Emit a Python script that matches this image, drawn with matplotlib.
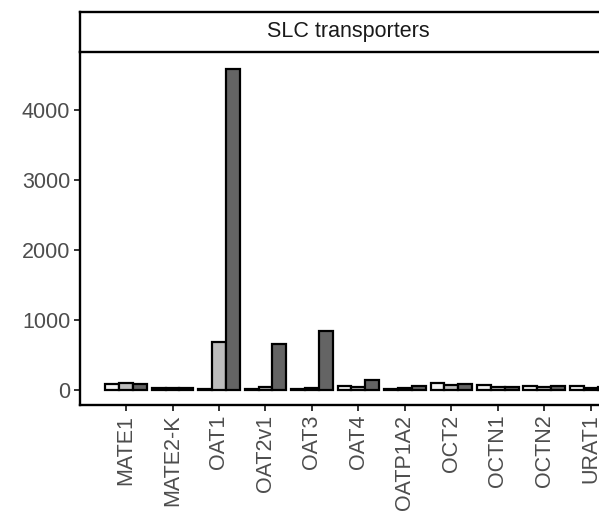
import matplotlib
matplotlib.use("Agg")
import matplotlib.pyplot as plt
import numpy as np

categories = ["MATE1", "MATE2-K", "OAT1", "OAT2v1", "OAT3", "OAT4",
              "OATP1A2", "OCT2", "OCTN1", "OCTN2", "URAT1"]
series_a = [85, 25, 15, 15, 10, 60, 20, 95, 65, 50, 50]
series_b = [105, 25, 690, 40, 30, 45, 25, 75, 45, 45, 35]
series_c = [90, 30, 4580, 650, 840, 140, 60, 90, 45, 55, 40]
y_ticks = [0, 1000, 2000, 3000, 4000]
strip_title = "SLC transporters"

W, H = 599, 517
fig = plt.figure(figsize=(W / 100, H / 100), dpi=100)
plt.rcParams['font.family'] = ['Liberation Sans', 'DejaVu Sans']

ax_left, ax_right = 80, 616
ax_top, ax_bottom = 52, 405
ax = fig.add_axes([ax_left / W, 1 - ax_bottom / H, (ax_right - ax_left) / W, (ax_bottom - ax_top) / H])

x = np.arange(len(categories))
bw = 0.3
colors = ["#f2f2f2", "#bdbdbd", "#646464"]
for i, (vals, c) in enumerate(zip([series_a, series_b, series_c], colors)):
    ax.bar(x + (i - 1) * bw, vals, width=bw, color=c, edgecolor="black", linewidth=1.6)

ax.set_xlim(-0.99, 10.54)
ax.set_ylim(-215, 4830)
ax.set_yticks(y_ticks)
ax.set_yticklabels([str(v) for v in y_ticks])
ax.set_xticks(x)
ax.set_xticklabels(categories, rotation=90)
for s in ["top", "right"]:
    ax.spines[s].set_visible(False)
for s in ["left", "bottom"]:
    ax.spines[s].set_linewidth(1.7)
    ax.spines[s].set_color("black")
ax.tick_params(axis="both", length=4, width=1.4, color="#333333",
               labelsize=15.5, labelcolor="#4d4d4d", pad=3)

strip_top = 12
sax = fig.add_axes([ax_left / W, 1 - ax_top / H, (ax_right - ax_left) / W, (ax_top - strip_top) / H])
sax.set_xticks([])
sax.set_yticks([])
for s in sax.spines.values():
    s.set_linewidth(1.7)
    s.set_color("black")
sax.set_facecolor("white")
sax.text(0.5, 0.5, strip_title, ha="center", va="center", fontsize=15.5,
         color="#1a1a1a", transform=sax.transAxes)

fig.savefig("out.png", dpi=100)
